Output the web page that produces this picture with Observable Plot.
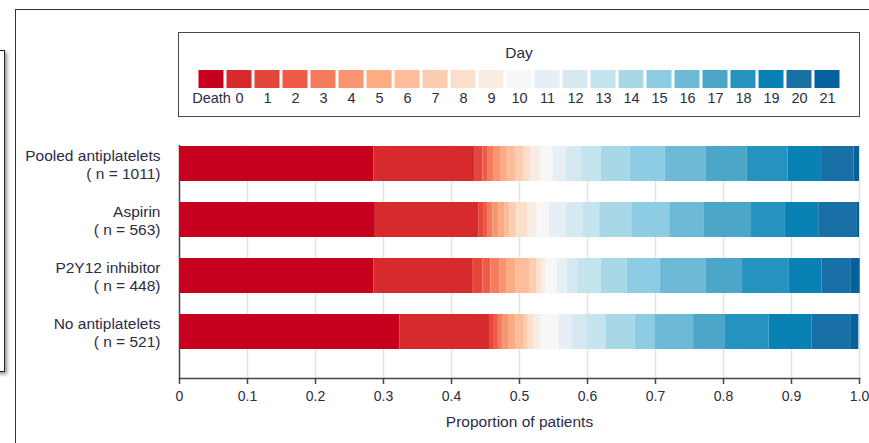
<!DOCTYPE html>
<html><head><meta charset="utf-8">
<script src="https://cdn.jsdelivr.net/npm/d3@7"></script>
<script src="https://cdn.jsdelivr.net/npm/@observablehq/plot@0.6"></script>
<style>
body{margin:0;background:#fff;}
#wrap{position:relative;width:869px;height:443px;overflow:hidden;background:#fff;}
#wrap svg{display:block;}
#main{position:absolute;left:0;top:0;}
#legend{position:absolute;left:178px;top:32px;width:682px;height:85px;box-sizing:border-box;border:1.5px solid #4a4a4a;background:#fff;}
#frame{position:absolute;left:15px;top:9px;width:900px;height:500px;border-top:1.5px solid #333;border-left:1.5px solid #333;}
#sidebox{position:absolute;left:-12px;top:50px;width:15px;height:320px;border:1.5px solid #222;box-shadow:2px 2px 4px rgba(0,0,0,0.45);}
</style></head>
<body><div id="wrap"><div id="frame"></div><div id="sidebox"></div><div id="main"></div><div id="legend"></div></div>
<script>
const FONT = '"Liberation Sans",Arial,sans-serif';
const TEXT = "#2c2c46";

const groups = ["Pooled antiplatelets", "Aspirin", "P2Y12 inhibitor", "No antiplatelets"];
const groupN = [1011, 563, 448, 521];

const days = ["Death","0","1","2","3","4","5","6","7","8","9","10","11","12","13","14","15","16","17","18","19","20","21"];
const dayColors = ["#c7001e","#d62a2d","#e3473a","#ef5b48","#f47b5c","#f89470","#fcab83","#fdbc9a","#fdcdb0","#fbdfca","#f8ece3","#f7f7f7","#e6eff5","#d6e9f1","#c4e4ee","#a8d7e6","#8ecce3","#6dbad6","#4ba6c8","#2593c0","#0a81b5","#1970a6","#04619d"];

// proportion of patients per day category (Death, day 0 ... day 21)
const pooled  = [0.286,0.149,0.011,0.007,0.009,0.010,0.010,0.012,0.013,0.010,0.014,0.018,0.020,0.022,0.029,0.043,0.051,0.060,0.061,0.060,0.049,0.048,0.008];
const aspirin = [0.288,0.152,0.007,0.007,0.007,0.008,0.009,0.008,0.010,0.016,0.014,0.018,0.025,0.024,0.025,0.047,0.056,0.051,0.068,0.051,0.049,0.057,0.003];
const p2y12   = [0.286,0.145,0.015,0.012,0.013,0.010,0.014,0.020,0.010,0.007,0.007,0.016,0.015,0.015,0.035,0.038,0.049,0.067,0.054,0.068,0.049,0.043,0.013];
const noAnti  = [0.324,0.132,0.007,0.006,0.007,0.009,0.010,0.012,0.006,0.008,0.010,0.027,0.020,0.021,0.028,0.043,0.029,0.057,0.047,0.064,0.063,0.057,0.012];

const xTicks = [0,0.1,0.2,0.3,0.4,0.5,0.6,0.7,0.8,0.9,1.0];
const xTickLabels = ["0","0.1","0.2","0.3","0.4","0.5","0.6","0.7","0.8","0.9","1.0"];

const series = [pooled, aspirin, p2y12, noAnti];
const rows = [];
series.forEach((arr, gi) => arr.forEach((v, di) => rows.push({group: groups[gi], day: days[di], value: v})));

const main = Plot.plot({
  width: 869, height: 443,
  marginLeft: 179, marginRight: 10, marginTop: 145, marginBottom: 65,
  style: {fontFamily: FONT, color: TEXT, background: "transparent", overflow: "visible"},
  x: {domain: [0, 1]},
  y: {domain: groups, range: [123.35, 371.7], padding: 0.382},
  color: {domain: days, range: dayColors},
  marks: [
    Plot.ruleX(xTicks.slice(1), {stroke: "#e2e2e2", strokeWidth: 1.5}),
    Plot.ruleX([0], {stroke: "#444", strokeWidth: 1.5}),
    Plot.barX(rows, {x: "value", y: "group", fill: "day"}),
    Plot.frame({anchor: "bottom", stroke: "#444", strokeWidth: 1.6}),
    Plot.axisX({ticks: xTicks, tickFormat: (d) => xTickLabels[xTicks.indexOf(d)], tickSize: 6, tickPadding: 7, fontSize: 14, stroke: "#444", strokeWidth: 1.5,
      label: "Proportion of patients", labelAnchor: "center", labelArrow: "none", labelOffset: 48}),
    Plot.axisY({tickSize: 0, tickPadding: 19, fontSize: 15.5, lineHeight: 1.2, label: null,
      tickFormat: (d) => `${d}\n( n = ${groupN[groups.indexOf(d)]})`})
  ]
});
main.querySelectorAll("text").forEach(t => { if (t.textContent === "Proportion of patients") t.setAttribute("font-size", 15.5); });
document.getElementById("main").append(main);

const legend = Plot.plot({
  width: 679, height: 82,
  marginLeft: 8, marginRight: 8, marginTop: 37, marginBottom: 27,
  style: {fontFamily: FONT, color: TEXT, background: "transparent", overflow: "visible"},
  x: {domain: days, padding: 0, axis: null},
  color: {domain: days, range: dayColors},
  marks: [
    Plot.cell(days, {x: (d) => d, fill: (d) => d, insetLeft: 1.5, insetRight: 1.5}),
    Plot.axisX({tickSize: 0, tickPadding: 4, fontSize: 14.5, label: null}),
    Plot.text(["Day"], {frameAnchor: "top", dy: -24, fontSize: 15.5, fill: TEXT})
  ]
});
document.getElementById("legend").append(legend);
</script>
</body></html>
